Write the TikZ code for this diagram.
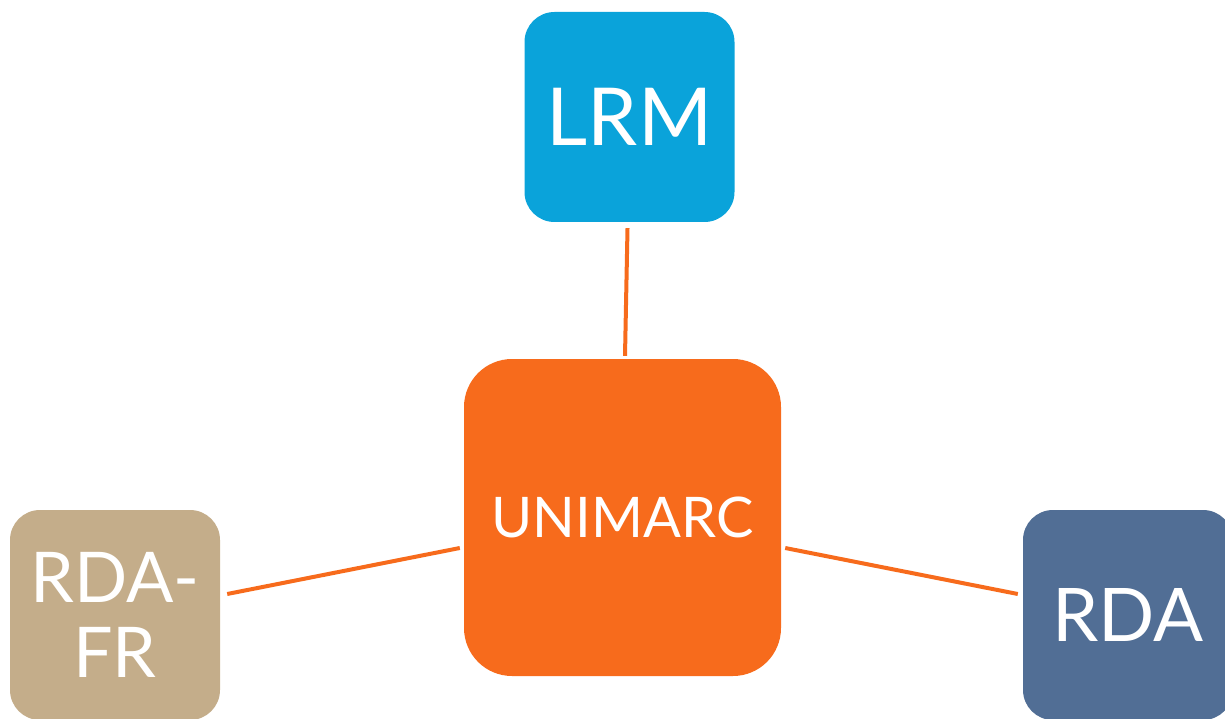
\documentclass[tikz,border=0pt]{standalone}
\usepackage{fontspec}
\setmainfont{Lato}
\definecolor{lrmblue}{HTML}{0AA3DA}
\definecolor{uniorange}{HTML}{F76B1C}
\definecolor{rdafrtan}{HTML}{C4AD8A}
\definecolor{rdablue}{HTML}{516E95}
\begin{document}
\begin{tikzpicture}[x=1pt,y=-1pt,
  box/.style={rounded corners=30pt, inner sep=0pt, text=white, align=center,
    minimum width=210pt, minimum height=210pt},
  link/.style={draw=uniorange, line width=4pt}]
\useasboundingbox (0,0) rectangle (1225,719);
\begin{scope}
\clip (0,0) rectangle (1225,719);
\node[box, fill=lrmblue, font=\fontsize{80}{80}\selectfont] (lrm) at (629.5,117) {LRM};
\node[box, fill=uniorange, rounded corners=48pt, minimum width=317pt, minimum height=317pt,
  font=\fontsize{56}{56}\selectfont] (uni) at (622.5,517.5) {UNIMARC};
\node[box, fill=rdafrtan, font=\fontsize{70}{75}\selectfont] (rdafr) at (115,615) {RDA-\\FR};
\node[box, fill=rdablue, font=\fontsize{74}{74}\selectfont] (rda) at (1128,615) {RDA};
\end{scope}
\draw[link] ([shift={(-2,6)}]lrm.south) -- ([shift={(2.5,-3)}]uni.north);
\draw[link] ([shift={(7,-21)}]rdafr.east) -- ([shift={(-4,30.5)}]uni.west);
\draw[link] ([shift={(4,30.5)}]uni.east) -- ([shift={(-5,-21)}]rda.west);
\end{tikzpicture}
\end{document}
